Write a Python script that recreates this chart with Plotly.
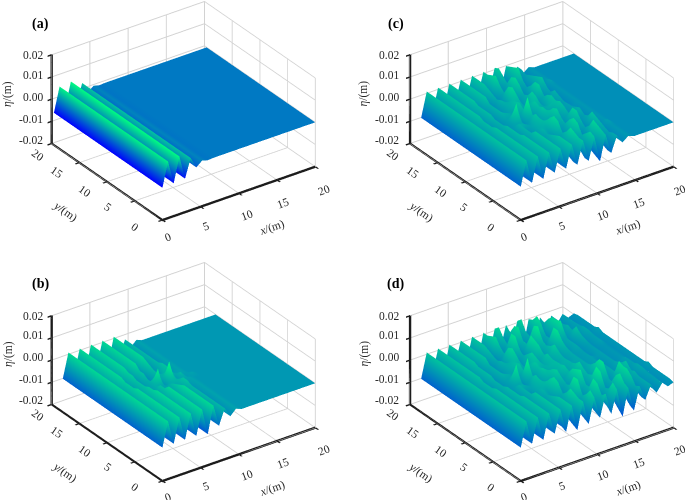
import numpy as np
import plotly.graph_objects as go

x_m = [0, .74, 1.48, 2.22, 2.96, 3.7, 4.44, 5.19, 5.93, 6.67, 7.41, 8.15, 8.89, 9.63,
       10.37, 11.11, 11.85, 12.59, 13.33, 14.07, 14.81, 15.56, 16.3, 17.04, 17.78, 18.52, 19.26, 20]
y_rows = [0, .75, 1.5, 2.25, 3, 3.75, 4.5, 5.25, 6, 6.75, 7.5, 8.25, 9, 9.75, 10.5, 11.25, 12,
          12.75, 13.5, 14.25, 15, 15.75, 16.5, 17.25, 18]
y_a = [0, 19.6]

profile_a = [-5.5, 5.5, -5.2, 6, -4.9, 3.5, -1.6, .5, -.2, 0, 0, 0, 0, 0,
             0, 0, 0, 0, 0, 0, 0, 0, 0, 0, 0, 0, 0, 0]

up_b = [-5, 6, -5, 6, -5, 6, -5, 6]
up_c = [-5, 6, -5, 6, -5, 6, -4, 6]
near = [-5, 6, -5, 6, -4, 5, -3, 4]
core = [-5, 6, -5, 5, -4, 4, -1, 2]
zero12 = [0] * 12
zero8 = [0] * 8

half_b = [
    up_b + [-6, 6, -4, 3, -1.5, 1, 0, 0] + zero12,
    up_b + [-6, 6, -4, 3, -1.5, 1, 0, 0] + zero12,
    up_b + [-6, 6, -4, 3, -1.5, 1, 0, 0] + zero12,
    up_b + [-6, 6, -4, 3, -1.5, 1, 0, 0] + zero12,
    up_b + [-6, 6, -4, 3, -1.5, 1, 0, 0] + zero12,
    up_b + [-6, 6, -4, 3, -1.5, 1, 0, 0] + zero12,
    up_b + [-6, 6, -4, 3, -1.5, 1, 0, 0] + zero12,
    up_b + [-5, 6, -3, 3, -1, 1, 0, 0] + zero12,
    up_b + [-5, 5, -2, 3, -1, 1, 0, 0] + zero12,
    near + [-4, 4, -1, 4, -1, 1, 0, 0] + zero12,
    near + [-2, 3, 1, 4, 0, 1, 0, 0] + zero12,
    core + [1, 1, 3, 2, 1, 1, 0, 0] + zero12,
    core + [8, -3, 9.5, -2, 3, 0, 1, 0] + zero12,
]

half_c = [
    up_c + [-4, 6, -4, 6, -4, 6, -6, 5, -4, 3, -1, 1] + zero8,
    up_c + [-4, 6, -4, 6, -4, 7, -5, 6, -4, 3, -1, 1] + zero8,
    up_c + [-4, 6, -3, 7, -2, 5, -4, 7, -3, 2, -1, 1] + zero8,
    up_c + [-4, 6, -2, 8, -1, 3, -3, 8, -2, 3, -1, 1] + zero8,
    up_c + [-4, 5, -1, 5, -2, 7, -2, 4, -2, 4, -1, 1] + zero8,
    up_c + [-3, 4, -1, 3, -2, 8, -2, 2, -2, 5, -1, 2] + zero8,
    up_c + [-3, 3, 0, 7, -2, 6, -2, 4, -1, 6, -1, 1] + zero8,
    near + [-2, 4, 2, 8, -1, 3, -1, 7, -1, 3, -1, 1] + zero8,
    near + [-1, 3, 4, 6, 0, 4, 0, 7, -1, 2, -1, 1] + zero8,
    near + [0, 3, 5, 3, 1, 7, 0, 3, 0, 4, -1, 1] + zero8,
    near + [3, 2, 6, 1, 4, 6, 0, 5, 0, 3, -1, 1] + zero8,
    core + [3, 0, 4, 0, 6, 3, 2, 6, 0, 2, -1, 1] + zero8,
    core + [10, -3, 11, -1, 5, 1, 4, 5, 1, 2, 0, 1] + zero8,
]

half_d = [
    up_c + [-5, 6, -6, 6, -5, 6, -4, 6, -4, 6, -7, 5, -6, 4, -3, 3, -1.5, 2, -.5, .5],
    up_c + [-4, 6, -5, 6, -4, 8, -3, 4, -2, 8, -5, 6, -5, 3, -3, 3, -1, 2, -.5, 1],
    up_c + [-4, 6, -4, 7, -3, 5, -2, 8, -1, 4, -3, 9, -3, 6, -2, 3, -1, 2, -.5, 1],
    up_c + [-4, 6, -3, 8, -2, 3, -2, 9, -2, 3, -2, 7, -3, 8, -2, 3, 0, 2, 0, 1],
    up_c + [-4, 5, -2, 5, -1, 9, -1, 4, -1, 9, -1, 3, -1, 8, -1, 4, 0, 2, 0, 1],
    up_c + [-3, 4, -1, 3, -1, 9, -1, 4, -1, 10, -1, 3, -1, 9, 0, 3, 0, 3, 0, 1],
    up_c + [-3, 3, 1, 7, -1, 4, -1, 9, 0, 5, 0, 9, 0, 3, 0, 6, 0, 3, 0, 2],
    near + [-2, 4, 2, 8, -1, 3, 0, 8, 0, 4, 0, 9, 0, 3, 0, 4, 0, 2, 0, 1],
    near + [-1, 3, 4, 6, 0, 5, 1, 7, 0, 5, 1, 6, 0, 3, 0, 3, 0, 2, 0, 1],
    near + [0, 3, 5, 3, 1, 7, 1, 4, 2, 7, 1, 4, 1, 3, 0, 2, 0, 2, 0, 1],
    near + [3, 2, 6, 1, 4, 6, 2, 6, 2, 5, 1, 3, 1, 2, 0, 2, 0, 1, 0, 1],
    core + [3, 0, 4, 0, 6, 4, 3, 5, 2, 4, 1, 3, 1, 2, 0, 2, 0, 1, 0, 1],
    core + [10, -3, 11, -1, 5, 2, 4, 5, 3, 4, 2, 3, 1, 2, 1, 2, 0, 1, 0, 1],
]

x_ticks = [0, 5, 10, 15, 20]
y_ticks = [0, 5, 10, 15, 20]
z_ticks = [-0.02, -0.01, 0.0, 0.01, 0.02]
z_labels = ['-0.02', '-0.01', '0.00', '0.01', '0.02']
panel_names = ['(a)', '(b)', '(c)', '(d)']
clims = [(-0.0055, 0.0061), (-0.014, 0.0095), (-0.016, 0.0125), (-0.016, 0.0125)]

FONT = 'Liberation Serif'
TEXT = '#262626'
winter = [[0, 'rgb(0,0,255)'], [1, 'rgb(0,255,128)']]

alpha, phi = np.radians(54.6), np.radians(29.4)
E = np.array([-np.cos(phi) * np.cos(alpha), -np.cos(phi) * np.sin(alpha), np.sin(phi)])
R = np.array([np.sin(alpha), -np.cos(alpha), 0])
U = np.array([np.cos(alpha) * np.sin(phi), np.sin(alpha) * np.sin(phi), np.cos(phi)])
EYE_DIST = 2.0
PX_TO_SCENE = 1 / 114
ZOOM = 1.5
BASE_DX, BASE_DY = 0.6, -4


def mirror(half):
    return half + half[-2::-1]


def axis(vals, rng):
    return dict(
        title=dict(text=''), range=rng, tickmode='array', tickvals=vals,
        showticklabels=False, showgrid=True, gridcolor='#d2d2d2', gridwidth=2,
        showline=True, linecolor='#1c1c1c', linewidth=5,
        ticks='inside', ticklen=5, tickcolor='#1c1c1c', tickwidth=3,
        zeroline=False, showbackground=False, showspikes=False,
    )


zs = [
    [profile_a, profile_a],
    mirror(half_b),
    mirror(half_c),
    mirror(half_d),
]
ys = [y_a, y_rows, y_rows, y_rows]

# pixel boxes of each scene: left, top, right, bottom
boxes = [(0, 0, 342, 250), (0, 250, 342, 500), (343, 0, 685, 250), (343, 250, 685, 500)]
# where the cube centre must land in pixels
centres = [(183, 108), (183, 368), (540, 108), (540, 368)]
# offset of each panel from panel (a), for its text
panel_off = [(0, 0), (0, 260), (355.5, 0), (355.5, 260)]

# text anchor points inside panel (a), in pixels
z_text_y = [140, 119, 97, 75, 55.5]
x_text_xy = [(168, 237), (206, 226), (247, 215), (283, 203), (324, 190)]
y_text_xy = [(135, 227), (108, 207), (85, 191), (57, 172), (38, 155)]
label_xy = (40, 24)


fig = go.Figure()
layout = {}
annotations = []


def put(text, px, py, size=11.5, angle=0, xanchor='center', color=TEXT):
    annotations.append(dict(
        text=text, x=px / 685, y=1 - py / 500, xref='paper', yref='paper', showarrow=False,
        xanchor=xanchor, yanchor='middle', textangle=angle,
        font=dict(family=FONT, size=size, color=color),
    ))


for i in range(4):
    name = 'scene' if i == 0 else f'scene{i + 1}'
    fig.add_trace(go.Surface(
        x=x_m, y=ys[i], z=np.array(zs[i], dtype=float) * 1e-3, scene=name,
        colorscale=winter, cmin=clims[i][0], cmax=clims[i][1], showscale=False,
        lighting=dict(ambient=1, diffuse=0, specular=0, roughness=1, fresnel=0),
        hoverinfo='skip',
    ))
    l, t, r, b = boxes[i]
    cx, cy = (l + r) / 2, (t + b) / 2
    dx, dy = centres[i][0] - (cx + BASE_DX), (cy + BASE_DY) - centres[i][1]
    shift = -(R * dx + U * dy) * PX_TO_SCENE
    layout[name] = dict(
        domain=dict(x=[l / 685, r / 685], y=[1 - b / 500, 1 - t / 500]),
        aspectmode='manual', aspectratio=dict(x=1 * ZOOM, y=1.02 * ZOOM, z=0.543 * ZOOM),
        camera=dict(
            projection=dict(type='orthographic'),
            up=dict(x=0, y=0, z=1),
            center=dict(x=shift[0], y=shift[1], z=shift[2]),
            eye=dict(x=E[0] * EYE_DIST + shift[0], y=E[1] * EYE_DIST + shift[1], z=E[2] * EYE_DIST + shift[2]),
        ),
        xaxis=axis(x_ticks, [0, 20]),
        yaxis=axis(y_ticks, [0, 20]),
        zaxis=axis(z_ticks, [-0.02, 0.02]),
    )
    ox, oy = panel_off[i]
    for lab, py in zip(z_labels, z_text_y):
        put(lab, 45 + ox, py + oy, xanchor='right')
    for v, (px, py) in zip(x_ticks, x_text_xy):
        put(str(v), px + ox, py + oy, angle=-20)
    for v, (px, py) in zip(y_ticks, y_text_xy):
        put(str(v), px + ox, py + oy, angle=35)
    put('<i>x</i>/(m)', 272 + ox, 228 + oy, angle=-19)
    put('<i>y</i>/(m)', 65 + ox, 212 + oy, angle=35)
    put('<i>η</i>/(m)', 8 + ox, 94 + oy, angle=-90)
    put(f'<b>{panel_names[i]}</b>', label_xy[0] + ox, label_xy[1] + oy, size=14, color='black')

fig.update_layout(
    width=685, height=500, margin=dict(l=0, r=0, t=0, b=0), paper_bgcolor='white',
    showlegend=False, annotations=annotations, **layout,
)
fig.write_html('out.html', config={'displayModeBar': False}, post_script="document.body.style.margin='0';")
